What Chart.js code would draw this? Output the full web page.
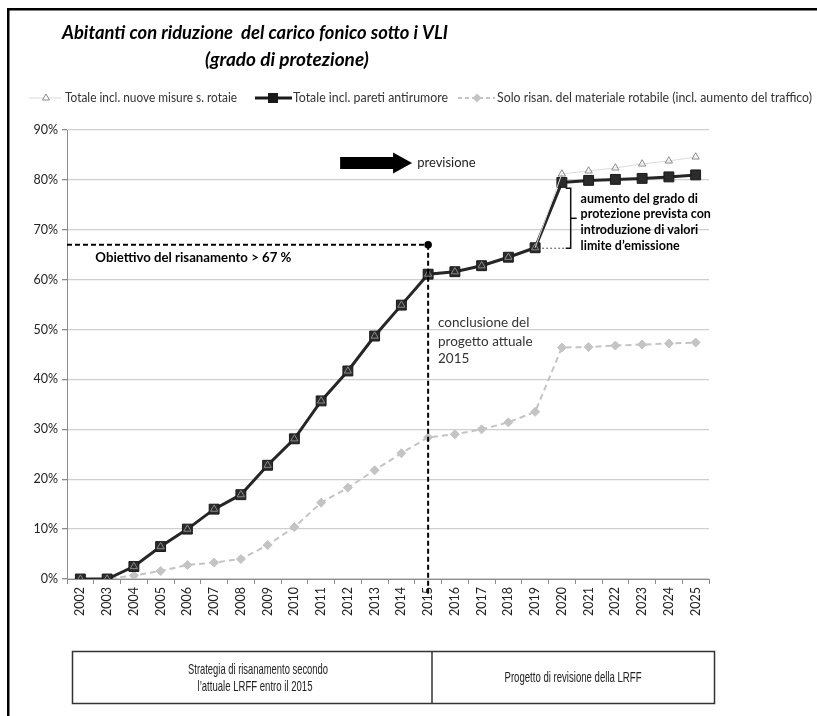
<!DOCTYPE html>
<html><head><meta charset="utf-8">
<script src="https://cdn.jsdelivr.net/npm/chart.js@4.4.1/dist/chart.umd.min.js"></script>
<style>html,body{margin:0;padding:0;background:#fff}canvas{display:block}</style>
</head><body>
<canvas id="c" width="817" height="716"></canvas>
<script>
// ---- data ----
const years = ['2002','2003','2004','2005','2006','2007','2008','2009','2010','2011','2012','2013','2014','2015','2016','2017','2018','2019','2020','2021','2022','2023','2024','2025'];
const totaleNuoveMisure = [0,0,2.5,6.5,10,14,16.9,22.8,28.1,35.7,41.7,48.7,54.9,61.1,61.6,62.8,64.5,66.4,81.2,81.8,82.4,83.2,83.8,84.6];
const totalePareti      = [0,0,2.5,6.5,10,14,16.9,22.8,28.1,35.7,41.7,48.7,54.9,61.1,61.6,62.8,64.5,66.4,79.5,79.9,80.1,80.3,80.6,81.0];
const soloMateriale     = [0,0,0.7,1.6,2.8,3.3,4.0,6.8,10.4,15.3,18.3,21.8,25.2,28.4,29.0,30.0,31.4,33.5,46.4,46.5,46.8,47.0,47.2,47.4];
const seriesNames = ['Totale incl. nuove misure s. rotaie','Totale incl. pareti antirumore','Solo risan. del materiale rotabile (incl. aumento del traffico)'];
const yTicks = [0,10,20,30,40,50,60,70,80,90];
const titleLines = ['Abitanti con riduzione  del carico fonico sotto i VLI','(grado di protezione)'];
const targetValue = 67;
const targetYearIndex = 13; // 2015
const forecastStartIndex = 17; // 2019
const targetLabel = 'Obiettivo del risanamento > 67 %';
const forecastLabel = 'previsione';
const conclusionLines = ['conclusione del','progetto attuale','2015'];
const braceLines = ['aumento del grado di','protezione prevista con','introduzione di valori','limite d\u2019emissione'];
const tableLeft = ['Strategia di risanamento secondo','l\u2019attuale LRFF entro il 2015'];
const tableRight = 'Progetto di revisione della LRFF';

const FONT = 'Lato, "Open Sans", sans-serif';

function txt(ctx, s, x, y, font, color, align, maxW){
  ctx.font = font; ctx.fillStyle = color; ctx.textAlign = align || 'left'; ctx.textBaseline = 'middle';
  if (maxW) ctx.fillText(s, x, y, maxW); else ctx.fillText(s, x, y);
}
function tri(ctx,x,y,r,fill,stroke){
  ctx.beginPath();
  for(let k=0;k<3;k++){const a=-Math.PI/2+k*2*Math.PI/3; const px=x+Math.cos(a)*r, py=y+Math.sin(a)*r; k?ctx.lineTo(px,py):ctx.moveTo(px,py);}
  ctx.closePath(); if(fill){ctx.fillStyle=fill;ctx.fill();} ctx.strokeStyle=stroke; ctx.lineWidth=1; ctx.stroke();
}

const decor = {
  id:'decor',
  beforeDraw(chart){
    const ctx = chart.ctx;
    ctx.save();
    ctx.fillStyle='#fff'; ctx.fillRect(0,0,chart.width,chart.height);
    // frame
    ctx.fillStyle='#000';
    ctx.fillRect(7,8,817-7,2.5);
    ctx.fillRect(7,8,2.5,716-8);
    // title
    txt(ctx,titleLines[0],62,33,'italic bold 19px '+FONT,'#000','left',386);
    txt(ctx,titleLines[1],205,60,'italic bold 19px '+FONT,'#000','left',176);
    // legend
    const ly = 98, lf = '12.5px '+FONT;
    ctx.strokeStyle='#d9d9d9'; ctx.lineWidth=1; ctx.setLineDash([]);
    ctx.beginPath(); ctx.moveTo(29,ly); ctx.lineTo(61,ly); ctx.stroke();
    tri(ctx,46,ly,4,'#fff','#8a8a8a');
    txt(ctx,seriesNames[0],65,ly,lf,'#333','left',172);
    ctx.strokeStyle='#1a1a1a'; ctx.lineWidth=3;
    ctx.beginPath(); ctx.moveTo(255,ly); ctx.lineTo(292,ly); ctx.stroke();
    ctx.fillStyle='#1a1a1a'; ctx.fillRect(268,ly-5,10,10);
    txt(ctx,seriesNames[1],293,ly,lf,'#333','left',155);
    ctx.strokeStyle='#c4c4c4'; ctx.lineWidth=2; ctx.setLineDash([4,3]);
    ctx.beginPath(); ctx.moveTo(458,ly); ctx.lineTo(495,ly); ctx.stroke(); ctx.setLineDash([]);
    ctx.fillStyle='#c4c4c4'; ctx.beginPath(); ctx.moveTo(477,ly-4.5); ctx.lineTo(481.5,ly); ctx.lineTo(477,ly+4.5); ctx.lineTo(472.5,ly); ctx.closePath(); ctx.fill();
    txt(ctx,seriesNames[2],497,ly,lf,'#333','left',315);
    // bottom table
    ctx.strokeStyle='#333'; ctx.lineWidth=1.5;
    ctx.strokeRect(72.5,651.5,642,52);
    ctx.beginPath(); ctx.moveTo(432,651.5); ctx.lineTo(432,703.5); ctx.stroke();
    const tf = '15px "Liberation Sans Narrow", "Liberation Sans", Arial, sans-serif';
    txt(ctx,tableLeft[0],258,670,tf,'#222','center',140);
    txt(ctx,tableLeft[1],255,687,tf,'#222','center',115);
    txt(ctx,tableRight,573,678,tf,'#222','center',137);
    ctx.restore();
  },
  afterDatasetsDraw(chart){
    const ctx = chart.ctx, xs = chart.scales.x, ys = chart.scales.y, ca = chart.chartArea;
    const X = i => xs.getPixelForValue(i), Y = v => ys.getPixelForValue(v);
    ctx.save();
    // target dashed lines
    ctx.strokeStyle='#000'; ctx.lineWidth=2; ctx.setLineDash([5,3]);
    const tx = X(targetYearIndex), ty = Y(targetValue);
    ctx.beginPath(); ctx.moveTo(ca.left,ty); ctx.lineTo(tx,ty); ctx.stroke();
    ctx.beginPath(); ctx.moveTo(tx,ty); ctx.lineTo(tx,ca.bottom+17); ctx.stroke();
    ctx.setLineDash([]);
    ctx.fillStyle='#000'; ctx.beginPath(); ctx.arc(tx,ty,3.8,0,Math.PI*2); ctx.fill();
    txt(ctx,targetLabel,X(0.56),Y(64.5),'bold 13.5px '+FONT,'#000','left',196);
    // forecast arrow
    const ay = Y(83.4), ax0 = X(9.71), ax1 = X(12.4), ahb = ax1-19;
    ctx.fillStyle='#000'; ctx.beginPath();
    ctx.moveTo(ax0,ay-6); ctx.lineTo(ahb,ay-6); ctx.lineTo(ahb,ay-10.5); ctx.lineTo(ax1,ay); ctx.lineTo(ahb,ay+10.5); ctx.lineTo(ahb,ay+6); ctx.lineTo(ax0,ay+6); ctx.closePath(); ctx.fill();
    txt(ctx,forecastLabel,X(12.59),ay,'13px '+FONT,'#222','left',62);
    // conclusion text
    const cv=[51.3,47.6,44.1];
    conclusionLines.forEach((s,k)=>txt(ctx,s,X(13.37),Y(cv[k]),'13.5px '+FONT,'#333','left',k===1?100:null));
    // brace
    const bx = X(18.33), bt = Y(78.3), bb = Y(66.3), bm = Y(72.3);
    ctx.strokeStyle='#111'; ctx.lineWidth=1.5;
    ctx.beginPath(); ctx.moveTo(bx-5,bt); ctx.lineTo(bx,bt); ctx.lineTo(bx,bb); ctx.lineTo(bx-5,bb); ctx.stroke();
    ctx.beginPath(); ctx.moveTo(bx,bm); ctx.lineTo(bx+6,bm); ctx.stroke();
    ctx.strokeStyle='#555'; ctx.lineWidth=1; ctx.setLineDash([2,2]);
    ctx.beginPath(); ctx.moveTo(X(forecastStartIndex)+7,Y(66.3)); ctx.lineTo(bx-6,Y(66.3)); ctx.stroke();
    ctx.setLineDash([]);
    const bv=[76.1,73.1,69.9,66.7];
    braceLines.forEach((s,k)=>txt(ctx,s,X(18.70),Y(bv[k]),'bold 12.5px '+FONT,'#000','left',k===1?136:null));
    ctx.restore();
  }
};

new Chart(document.getElementById('c'), {
  type:'line',
  data:{labels:years, datasets:[
    {label:seriesNames[0], data:totaleNuoveMisure, borderColor:'#d9d9d9', borderWidth:1, tension:0,
     pointStyle:'triangle', pointRadius:4.2, pointBorderColor:'#8a8a8a', pointBackgroundColor:'rgba(0,0,0,0)', pointBorderWidth:1,
     segment:{borderColor: c => c.p1DataIndex <= forecastStartIndex ? 'rgba(0,0,0,0)' : '#dcdcdc'}},
    {label:seriesNames[1], data:totalePareti, borderColor:'#262626', borderWidth:3, tension:0,
     pointStyle:'rect', pointRadius:7, pointBackgroundColor:'#2b2b2b', pointBorderColor:'#1a1a1a', pointBorderWidth:1},
    {label:seriesNames[2], data:soloMateriale, borderColor:'#c4c4c4', borderWidth:2, borderDash:[6,4], tension:0,
     pointStyle:'rectRot', pointRadius:4.5, pointBackgroundColor:'#c4c4c4', pointBorderColor:'#c4c4c4', pointBorderWidth:1}
  ]},
  options:{
    responsive:false, animation:false, devicePixelRatio:1, events:[],
    layout:{padding:{left:0,right:108,top:130,bottom:97}},
    plugins:{legend:{display:false}, title:{display:false}, tooltip:{enabled:false}},
    scales:{
      x:{offset:true,
         grid:{offset:true, drawOnChartArea:false, drawTicks:true, tickLength:5, tickColor:'#8c8c8c', lineWidth:1},
         border:{color:'#8c8c8c', width:1},
         ticks:{minRotation:90, maxRotation:90, autoSkip:false, color:'#222', font:{family:FONT,size:12.5}, padding:3},
         afterFit(s){ s.height = 40; }},
      y:{min:0, max:90,
         afterBuildTicks(s){ s.ticks = yTicks.map(v=>({value:v})); },
         ticks:{callback:v=>v+'%', color:'#222', font:{family:FONT,size:12.5}, padding:4},
         grid:{color:'#cfcfcf', lineWidth:1.3, tickLength:5, tickColor:'#8c8c8c'},
         border:{color:'#8c8c8c', width:1},
         afterFit(s){ s.width = 67; }}
    }
  },
  plugins:[decor]
});
</script>
</body></html>
